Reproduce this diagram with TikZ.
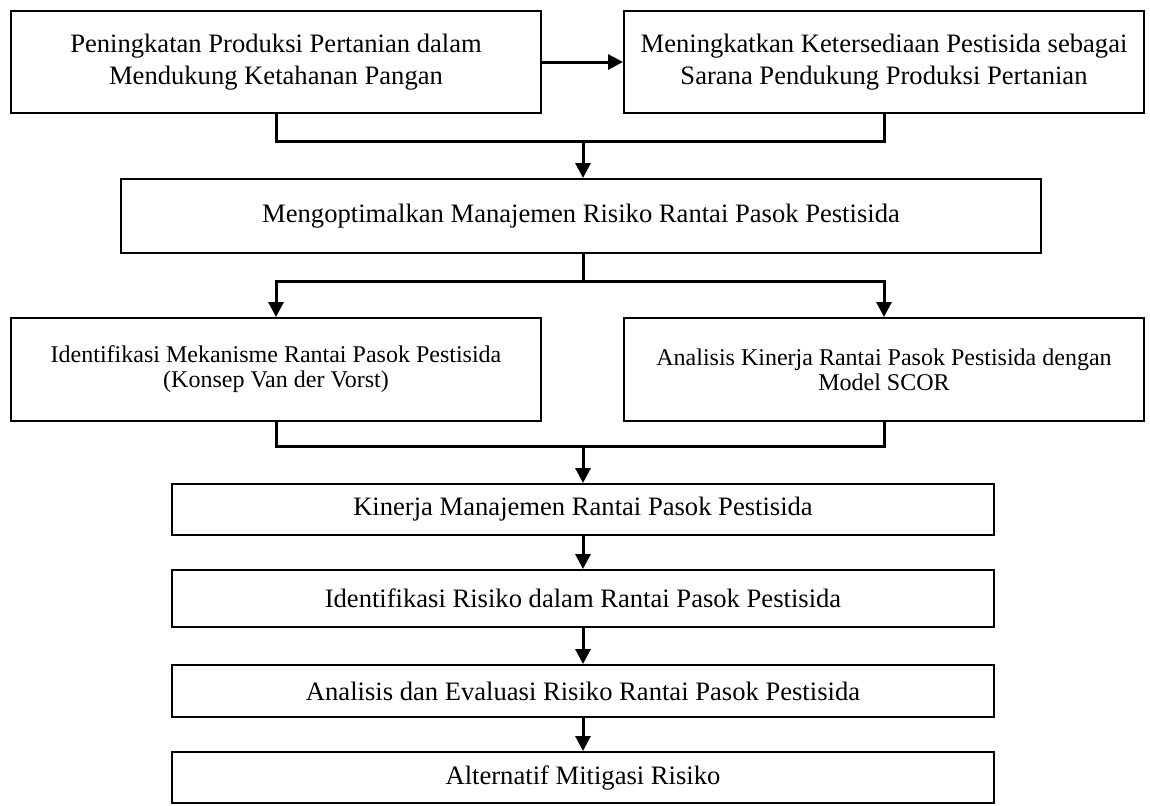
\documentclass[tikz,border=0pt]{standalone}
\usepackage{fontspec}
\setmainfont{Liberation Serif}
\usetikzlibrary{arrows.meta}
\tikzset{
  blok/.style={draw,line width=1pt,inner sep=0pt,align=center,font=\fontsize{13.3}{16}\selectfont},
  blokkecil/.style={blok,font=\fontsize{12}{12.5}\selectfont},
  conn/.style={line width=1.5pt},
}
\begin{document}
\begin{tikzpicture}[>={Triangle[length=7.5pt,width=7.5pt]},x=0.5pt,y=-0.5pt,line join=miter]
	\useasboundingbox (0,0) rectangle (1150,805);
	% baris atas
	\node[blok,minimum width=265pt,minimum height=51pt] (prod) at (276,62) {Peningkatan Produksi Pertanian dalam\\Mendukung Ketahanan Pangan};
	\node[blok,minimum width=260pt,minimum height=51pt] (sedia) at (884,62) {Meningkatkan Ketersediaan Pestisida sebagai\\Sarana Pendukung Produksi Pertanian};
	\node[blok,minimum width=460pt,minimum height=37pt] (optim) at (581,216) {Mengoptimalkan Manajemen Risiko Rantai Pasok Pestisida};
	% dua analisis
	\node[blokkecil,minimum width=265pt,minimum height=51.5pt] (mekan) at (276,369.5) {Identifikasi Mekanisme Rantai Pasok Pestisida\\(Konsep Van der Vorst)};
	\node[blokkecil,minimum width=260pt,minimum height=51.5pt] (scor) at (884,369.5) {Analisis Kinerja Rantai Pasok Pestisida dengan\\Model SCOR};
	% alur ke bawah
	\node[blok,minimum width=411pt,minimum height=25.5pt] (kinerja) at (583,509.5) {Kinerja Manajemen Rantai Pasok Pestisida};
	\node[blok,minimum width=411pt,minimum height=28.5pt] (idrisk) at (583,598.5) {Identifikasi Risiko dalam Rantai Pasok Pestisida};
	\node[blok,minimum width=411pt,minimum height=26pt] (evrisk) at (583,691) {Analisis dan Evaluasi Risiko Rantai Pasok Pestisida};
	\node[blok,minimum width=411pt,minimum height=25.5pt] (mitig) at (583,777.5) {Alternatif Mitigasi Risiko};
	% penghubung
	\coordinate (bar1) at (583,141);
	\coordinate (bar2) at (583,281);
	\coordinate (bar3) at (583,446);
	\draw[conn,->] (prod) -- (sedia);
	\draw[conn] (prod.south) |- (bar1) -| (sedia.south);
	\draw[conn,->] (bar1) -- (bar1 |- optim.north);
	\draw[conn] (optim.south -| bar2) -- (bar2);
	\draw[conn,->] (bar2) -| (mekan.north);
	\draw[conn,->] (bar2) -| (scor.north);
	\draw[conn] (mekan.south) |- (bar3) -| (scor.south);
	\draw[conn,->] (bar3) -- (kinerja.north);
	\draw[conn,->] (kinerja) -- (idrisk);
	\draw[conn,->] (idrisk) -- (evrisk);
	\draw[conn,->] (evrisk) -- (mitig);
\end{tikzpicture}
\end{document}
